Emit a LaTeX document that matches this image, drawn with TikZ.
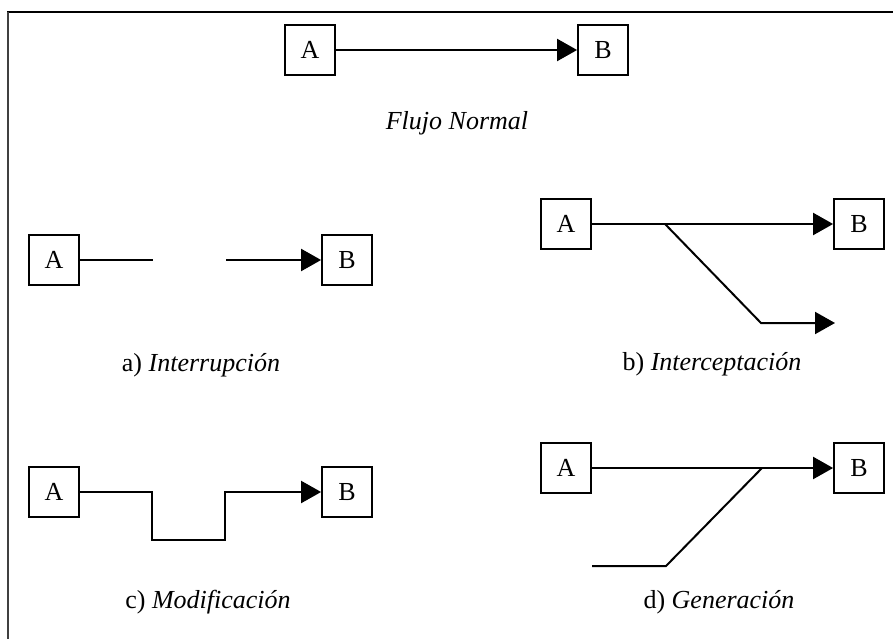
\documentclass[tikz,border=0pt]{standalone}
\usepackage{fontspec}
\setmainfont{Liberation Serif}
\usetikzlibrary{arrows.meta}
\begin{document}
\begin{tikzpicture}[x=1pt,y=-1pt,
  box/.style={draw,line width=1.8pt,minimum width=50pt,minimum height=50pt,inner sep=0pt,font=\fontsize{26}{29}\selectfont},
  flow/.style={line width=2pt},
  arr/.style={flow,-{Triangle[length=20pt,width=22pt]}},
  caption/.style={anchor=base,inner sep=0pt,font=\fontsize{26}{29}\selectfont}]
\useasboundingbox (0,0) rectangle (893,639);
% frame
\draw[line width=2pt] (7,12) -- (893,12);
\draw[line width=2pt,black!75] (8,12) -- (8,639);

% normal flow
\node[box] (nA) at (310,50) {A};
\node[box] (nB) at (603,50) {B};
\draw[arr] (nA.east) -- (nB.west);
\node[caption] (nC) at (457,130) {\itshape Flujo Normal};

% a) interruption
\node[box] (aA) at (54,260) {A};
\node[box] (aB) at (347,260) {B};
\coordinate (aCut1) at (153,260);
\coordinate (aCut2) at (226,260);
\draw[flow] (aA.east) -- (aCut1);
\draw[arr] (aCut2) -- (aB.west);
\node[caption] (aC) at (201,371) {a) \itshape Interrupción};

% b) interception
\node[box] (bA) at (566,224) {A};
\node[box] (bB) at (859,224) {B};
\coordinate (bFork) at (665,224);
\coordinate (bBend) at (761,323);
\coordinate (bEnd) at (835,323);
\draw[arr] (bA.east) -- (bB.west);
\draw[arr] (bFork) -- (bBend) -- (bEnd);
\node[caption] (bC) at (712,370) {b) \itshape Interceptación};

% c) modification
\node[box] (cA) at (54,492) {A};
\node[box] (cB) at (347,492) {B};
\draw[arr] (cA.east) -- (152,492) -- (152,540) -- (225,540) -- (225,492) -- (cB.west);
\node[caption] (cC) at (208,608) {c) \itshape Modificación};

% d) fabrication
\node[box] (dA) at (566,468) {A};
\node[box] (dB) at (859,468) {B};
\coordinate (dStart) at (592,566);
\coordinate (dBend) at (666,566);
\coordinate (dJoin) at (762,468);
\draw[arr] (dA.east) -- (dB.west);
\draw[flow] (dStart) -- (dBend) -- (dJoin);
\node[caption] (dC) at (719,608) {d) \itshape Generación};
\end{tikzpicture}
\end{document}
